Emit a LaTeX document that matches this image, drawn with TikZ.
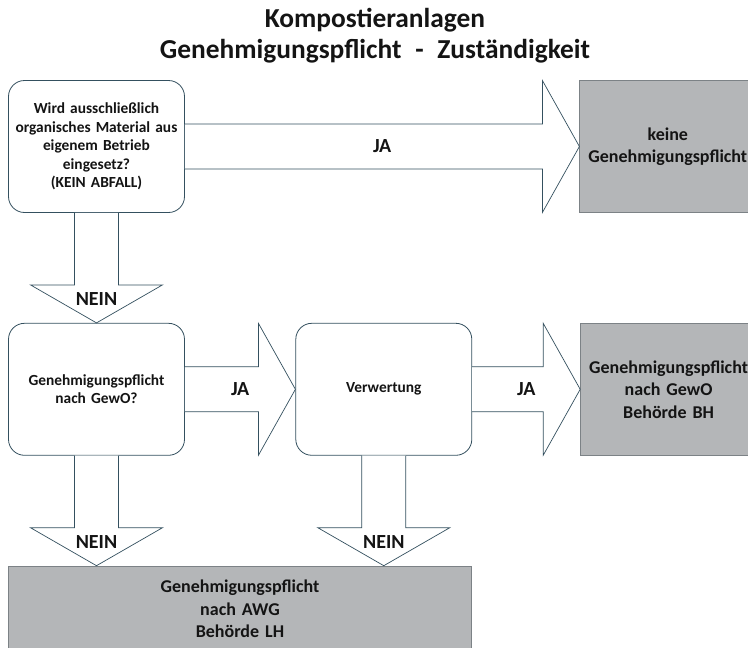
\documentclass[tikz,border=0pt]{standalone}
\usepackage{fontspec}
\setmainfont{Carlito}[WordSpace=1.5]
\usepackage{tikz}
\usetikzlibrary{positioning,calc}
\definecolor{clinie}{HTML}{34505F}
\definecolor{cgrau}{HTML}{B4B6B8}
\definecolor{crand}{HTML}{7C8286}
\definecolor{ctext}{HTML}{141414}
% Blockpfeil nach rechts: Start, Ziel, Beschriftung
\newcommand{\pfeilre}[3]{%
  \draw[pfeil] let \p1=(#1.east), \p2=(#2.west) in
    (\x1,\y1+22.5pt) -- (\x2-37pt,\y1+22.5pt) -- (\x2-37pt,\y1+66pt) -- (\x2,\y1)
    -- (\x2-37pt,\y1-66pt) -- (\x2-37pt,\y1-22.5pt) -- (\x1,\y1-22.5pt);
  \path let \p1=(#1.east), \p2=(#2.west) in
    node[etikett] at ({(\x1+\x2)/2},\y1) {#3};}
% Blockpfeil nach unten: Start, Ziel, Beschriftung
\newcommand{\pfeilab}[3]{%
  \draw[pfeil] let \p1=(#1.south), \p2=(#2.north) in
    (\x1-22pt,\y1) -- (\x1-22pt,\y2+38pt) -- (\x1-66pt,\y2+38pt) -- (\x1,\y2)
    -- (\x1+66pt,\y2+38pt) -- (\x1+22pt,\y2+38pt) -- (\x1+22pt,\y1);
  \path let \p1=(#1.south), \p2=(#2.north) in
    node[etikett] at (\x1,\y2+24pt) {#3};}
\tikzset{
  frage/.style={rectangle, rounded corners=16pt, draw=clinie, line width=0.8pt, fill=white,
    text width=176pt, inner sep=0pt, align=center, minimum height=132pt,
    font=\fontsize{15.4}{18.5}\selectfont\bfseries, text=ctext},
  ergebnis/.style={rectangle, draw=crand, line width=0.8pt, fill=cgrau,
    text width=176pt, inner sep=0pt, align=center, minimum height=132pt,
    font=\fontsize{18}{22.5}\selectfont\bfseries, text=ctext},
  pfeil/.style={draw=clinie, line width=0.7pt, fill=white, line join=miter},
  etikett/.style={font=\fontsize{20}{24}\selectfont\bfseries, text=ctext},
  titel/.style={align=center, font=\fontsize{27.4}{31}\selectfont\bfseries, text=ctext},
}
\begin{document}
\begin{tikzpicture}[x=1pt, y=-1pt]
  \useasboundingbox (0,0) rectangle (748,648);
  \clip (0,0) rectangle (748,648);
  \node[titel] (titel) at (375,36) {Kompostieranlagen\\Genehmigungspflicht\enspace-\enspace Zuständigkeit};
  \node[frage] (eigen) at (96.5,146.5) {Wird ausschließlich\\organisches Material aus\\eigenem Betrieb\\eingesetz?\\(KEIN ABFALL)};
  \node[ergebnis, right=394.5pt of eigen] (keine) {keine\\Genehmigungspflicht};
  \node[frage, below=110pt of eigen] (gewo) {Genehmigungspflicht\\nach GewO?};
  \node[frage, right=110.5pt of gewo] (verw) {Verwertung};
  \node[ergebnis, right=108pt of verw] (bh) {Genehmigungspflicht\\nach GewO\\Behörde BH};
  \node[ergebnis, below right=110pt and 0pt of gewo.south west, text width=463pt, minimum height=86pt] (lh) {Genehmigungspflicht\\nach AWG\\Behörde LH};
  \pfeilre{eigen}{keine}{JA}
  \pfeilre{gewo}{verw}{JA}
  \pfeilre{verw}{bh}{JA}
  \pfeilab{eigen}{gewo}{NEIN}
  \pfeilab{gewo}{lh}{NEIN}
  \pfeilab{verw}{lh}{NEIN}
\end{tikzpicture}
\end{document}
